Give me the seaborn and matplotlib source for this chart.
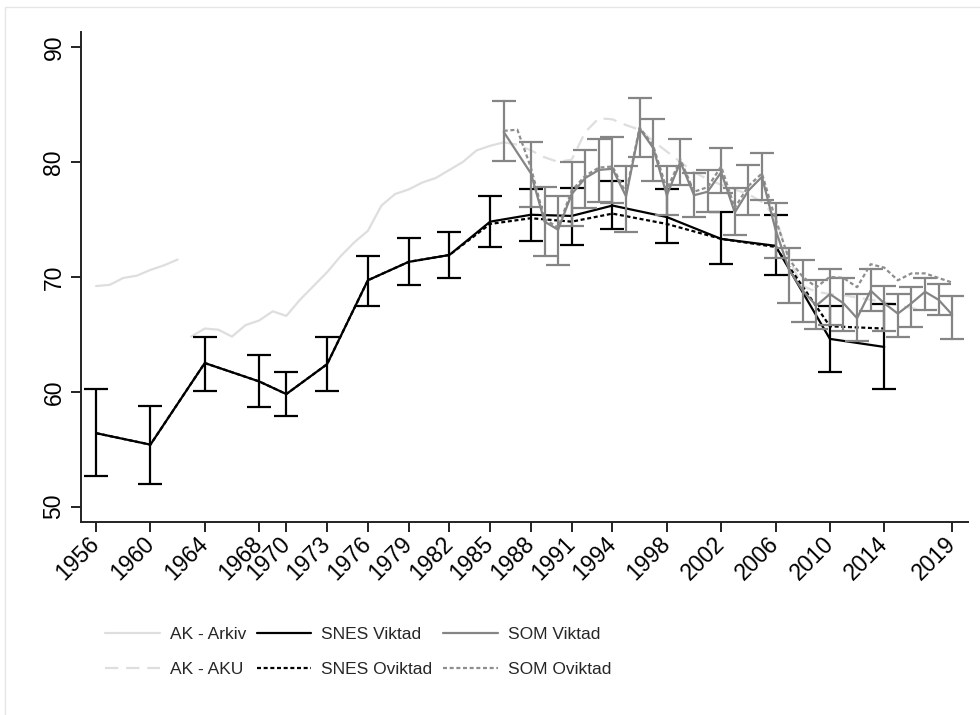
import numpy as np
import pandas as pd
import matplotlib
matplotlib.use("Agg")
import matplotlib.pyplot as plt
from matplotlib.lines import Line2D
from matplotlib.patches import Rectangle
import seaborn as sns

# ---------------- data ----------------
ak_arkiv_years = [1956, 1957, 1958, 1959, 1960, 1961, 1962,
                  1963, 1964, 1965, 1966, 1967, 1968, 1969, 1970, 1971, 1972, 1973,
                  1974, 1975, 1976, 1977, 1978, 1979, 1980, 1981, 1982, 1983, 1984,
                  1985, 1986]
ak_arkiv_vals = [69.2, 69.3, 69.9, 70.1, 70.6, 71.0, 71.5,
                 64.8, 65.5, 65.4, 64.8, 65.8, 66.2, 67.0, 66.6, 68.0, 69.2, 70.4,
                 71.8, 73.0, 74.0, 76.2, 77.2, 77.6, 78.2, 78.6, 79.3, 80.0, 81.0,
                 81.4, 81.7]
ak_arkiv_segment = [1] * 7 + [2] * 24

ak_aku_years = [1986, 1987, 1988, 1989, 1990, 1991, 1992, 1993, 1994, 1995, 1996,
                1997, 1998, 1999, 2000, 2001, 2002, 2003, 2004, 2005, 2006, 2007,
                2008, 2009, 2010, 2011, 2012, 2013, 2014, 2015, 2016, 2017]
ak_aku_vals = [81.7, 81.5, 81.0, 80.4, 80.0, 80.2, 82.6, 83.8, 83.7, 83.2, 82.8,
               81.8, 80.9, 80.0, 79.1, 78.5, 78.0, 77.6, 77.2, 76.5, 75.2, 71.5,
               69.2, 68.7, 68.5, 68.4, 68.2, 68.0, 67.8, 67.5, 67.3, 67.0]

snes_years = [1956, 1960, 1964, 1968, 1970, 1973, 1976, 1979, 1982, 1985,
              1988, 1991, 1994, 1998, 2002, 2006, 2010, 2014]
snes_w = [56.4, 55.4, 62.5, 60.9, 59.8, 62.4, 69.7, 71.3, 71.9, 74.8,
          75.4, 75.3, 76.2, 75.2, 73.3, 72.7, 64.6, 63.9]
snes_w_lo = [52.7, 52.0, 60.1, 58.7, 57.9, 60.1, 67.5, 69.3, 69.9, 72.6,
             73.1, 72.8, 74.2, 72.9, 71.1, 70.2, 61.7, 60.2]
snes_w_hi = [60.2, 58.8, 64.8, 63.2, 61.7, 64.8, 71.8, 73.4, 73.9, 77.0,
             77.6, 77.7, 78.3, 77.6, 75.6, 75.4, 67.5, 67.6]
snes_u = [56.4, 55.4, 62.5, 60.9, 59.8, 62.4, 69.7, 71.3, 71.9, 74.6,
          75.1, 74.8, 75.5, 74.6, 73.3, 72.6, 65.7, 65.5]

som_years = [1986, 1987, 1988, 1989, 1990, 1991, 1992, 1993, 1994, 1995, 1996,
             1997, 1998, 1999, 2000, 2001, 2002, 2003, 2004, 2005, 2006, 2007,
             2008, 2009, 2010, 2011, 2012, 2013, 2014, 2015, 2016, 2017, 2018, 2019]
som_w = [82.6, np.nan, 79.0, 74.8, 74.1, 77.2, 78.6, 79.3, 79.4, 77.0, 82.9,
         81.2, 77.1, 80.0, 77.1, 77.4, 79.1, 75.6, 77.5, 78.7, 74.1, 70.6,
         68.8, 67.5, 68.5, 67.7, 66.4, 68.8, 67.7, 66.8, 67.7, 68.7, 68.0, 66.7]
som_w_lo = [80.1, np.nan, 76.1, 71.8, 71.0, 74.4, 76.0, 76.5, 76.4, 73.9, 80.4,
            78.3, 75.4, 78.0, 75.2, 75.6, 77.3, 73.6, 75.4, 76.7, 71.6, 67.7,
            66.1, 65.5, 65.8, 65.3, 64.4, 67.0, 65.3, 64.8, 65.6, 67.1, 66.7, 64.6]
som_w_hi = [85.3, np.nan, 81.7, 77.8, 77.0, 80.0, 81.0, 82.0, 82.2, 79.6, 85.6,
            83.7, 79.6, 82.0, 79.0, 79.3, 81.2, 77.7, 79.7, 80.8, 76.4, 72.5,
            71.5, 69.7, 70.7, 69.9, 68.5, 70.7, 69.2, 68.5, 69.1, 69.9, 69.4, 68.3]
som_u = [82.7, 82.8, 79.5, 75.0, 74.3, 77.5, 78.8, 79.5, 79.6, 77.3, 83.0,
         81.4, 77.6, 80.2, 77.4, 77.8, 79.6, 76.0, 77.9, 79.0, 75.0, 71.5,
         70.0, 69.1, 70.0, 69.9, 69.1, 71.1, 70.8, 69.7, 70.3, 70.3, 69.9, 69.5]

xtick_years = [1956, 1960, 1964, 1968, 1970, 1973, 1976, 1979, 1982, 1985,
               1988, 1991, 1994, 1998, 2002, 2006, 2010, 2014, 2019]
ytick_vals = [50, 60, 70, 80, 90]

# ---------------- style ----------------
sns.set_theme(style="white")
plt.rcParams["font.family"] = ["Liberation Sans", "DejaVu Sans"]

AK_COL = "#dedede"
SOM_COL = "#858585"
SOM_U_COL = "#8e8e8e"

fig = plt.figure(figsize=(9.8, 7.15), dpi=100)
ax = fig.add_axes([80.7 / 980, 1 - 522 / 715, (967.7 - 80.7) / 980, (522 - 32) / 715])

df_arkiv = pd.DataFrame({"year": ak_arkiv_years, "val": ak_arkiv_vals, "seg": ak_arkiv_segment})
df_aku = pd.DataFrame({"year": ak_aku_years, "val": ak_aku_vals})
df_snes = pd.DataFrame({"year": snes_years, "w": snes_w, "u": snes_u,
                        "lo": snes_w_lo, "hi": snes_w_hi})
df_som = pd.DataFrame({"year": som_years, "w": som_w, "u": som_u,
                       "lo": som_w_lo, "hi": som_w_hi})

lw = 1.6
# AK series
sns.lineplot(data=df_arkiv, x="year", y="val", units="seg", estimator=None,
             color=AK_COL, lw=lw, ax=ax, zorder=1)
sns.lineplot(data=df_aku, x="year", y="val", color=AK_COL, lw=lw, ax=ax, zorder=1,
             linestyle=(0, (6, 3.5)))

# SNES
ax.errorbar(df_snes["year"], df_snes["w"],
            yerr=[df_snes["w"] - df_snes["lo"], df_snes["hi"] - df_snes["w"]],
            fmt="none", ecolor="black", elinewidth=lw, capsize=8.5, capthick=lw, zorder=2)
sns.lineplot(data=df_snes, x="year", y="u", color="black", lw=lw, ax=ax, zorder=3,
             linestyle=(0, (1.8, 1.2)))
sns.lineplot(data=df_snes, x="year", y="w", color="black", lw=lw, ax=ax, zorder=3)

# SOM
som_ok = df_som.dropna(subset=["w"])
ax.errorbar(som_ok["year"], som_ok["w"],
            yerr=[som_ok["w"] - som_ok["lo"], som_ok["hi"] - som_ok["w"]],
            fmt="none", ecolor=SOM_COL, elinewidth=lw, capsize=8.5, capthick=lw, zorder=4)
sns.lineplot(data=df_som, x="year", y="u", color=SOM_U_COL, lw=lw, ax=ax, zorder=5,
             linestyle=(0, (1.8, 1.2)))
sns.lineplot(data=som_ok, x="year", y="w", color=SOM_COL, lw=lw, ax=ax, zorder=5)

# axes
ax.set_xlim(1954.87, 2020.14)
ax.set_ylim(48.67, 91.3)
ax.set_xticks(xtick_years)
ax.set_xticklabels([str(y) for y in xtick_years], rotation=45, ha="right", va="center",
                   rotation_mode="anchor", fontsize=16.5)
ax.set_yticks(ytick_vals)
ax.set_yticklabels([str(v) for v in ytick_vals], rotation=90, va="center", fontsize=16.5)
ax.set_xlabel("")
ax.set_ylabel("")
for s in ["top", "right"]:
    ax.spines[s].set_visible(False)
for s in ["left", "bottom"]:
    ax.spines[s].set_color("#222222")
    ax.spines[s].set_linewidth(1.4)
ax.tick_params(axis="both", which="major", length=7, width=1.4, color="#222222",
               direction="out", left=True, bottom=True, labelcolor="black")
ax.tick_params(axis="x", pad=6)
ax.tick_params(axis="y", pad=4)
ax.grid(False)
ax.set_facecolor("white")

# legend
handles = [
    Line2D([], [], color=AK_COL, lw=lw),
    Line2D([], [], color=AK_COL, lw=lw, linestyle=(0, (6, 3.5))),
    Line2D([], [], color="black", lw=lw),
    Line2D([], [], color="black", lw=lw, linestyle=(0, (1.8, 1.2))),
    Line2D([], [], color=SOM_COL, lw=lw),
    Line2D([], [], color=SOM_U_COL, lw=lw, linestyle=(0, (1.8, 1.2))),
]
labels = ["AK - Arkiv", "AK - AKU", "SNES Viktad", "SNES Oviktad", "SOM Viktad", "SOM Oviktad"]
leg = fig.legend(handles, labels, ncol=3, loc="upper left",
                 bbox_to_anchor=(105 / 980, 1 - 627 / 715), frameon=False,
                 borderpad=0, borderaxespad=0, handlelength=3.16, handletextpad=0.575,
                 columnspacing=0.6, labelspacing=1.12,
                 prop={"family": "Liberation Sans", "size": 12.5})

# outer frame
fig.patches.append(Rectangle((5 / 980, -0.05), 1.2, (715 - 7) / 715 + 0.05,
                             transform=fig.transFigure, fill=False,
                             edgecolor="#e6e6e6", lw=1.0))

fig.savefig("out.png", dpi=100)
